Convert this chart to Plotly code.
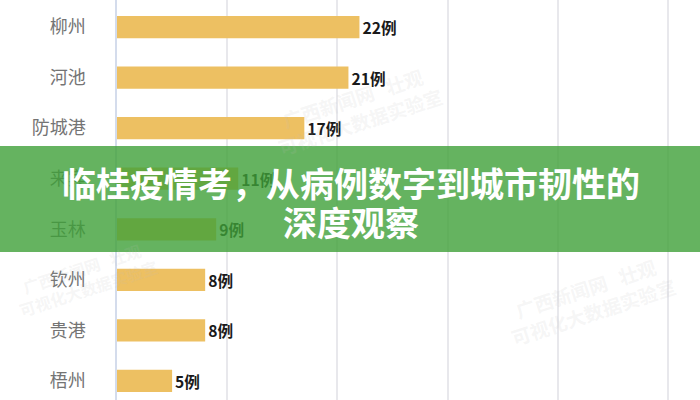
import plotly.graph_objects as go

cities = ["柳州", "河池", "防城港", "来宾", "玉林", "钦州", "贵港", "梧州"]
cases = [22, 21, 17, 11, 9, 8, 8, 5]
labels = ["{}例".format(v) for v in cases]

title_lines = ["临桂疫情考，从病例数字到城市韧性的", "深度观察"]
watermark = "广西新闻网   壮观<br>可视化大数据实验室"

font_cjk = "Noto Sans CJK SC"

fig = go.Figure(go.Bar(
    y=cities,
    x=cases,
    orientation="h",
    text=labels,
    textposition="outside",
    cliponaxis=False,
    marker=dict(color="#EDC062", line=dict(width=0)),
    textfont=dict(family=font_cjk, size=19, color="#1a1a1a", weight="bold"),
))

fig.update_layout(
    width=700, height=400,
    margin={"l": 117, "r": 0, "t": 0, "b": 0, "pad": 0},
    plot_bgcolor="white",
    paper_bgcolor="white",
    bargap=0.56,
    showlegend=False,
    font=dict(family=font_cjk),
)

fig.update_xaxes(range=[0, 52.9], dtick=10, showticklabels=False,
                 showgrid=True, gridcolor="#e8e8ec", gridwidth=1.5,
                 zeroline=False, showline=False)
fig.update_yaxes(range=[7.376, -0.534], showgrid=False, zeroline=False,
                 showline=True, linecolor="#d4dcec", linewidth=1.5,
                 ticks="", ticklabelstandoff=26,
                 tickfont=dict(family=font_cjk, size=18, color="#747474"))

# faint watermarks
for wx, wy, ws in [(0.41, 0.725, 19), (0.81, 0.25, 19), (-0.055, 0.305, 16)]:
    fig.add_annotation(xref="paper", yref="paper", x=wx, y=wy,
                       xanchor="center", yanchor="middle",
                       text=watermark, showarrow=False, textangle=-18,
                       font=dict(family=font_cjk, size=ws, color="rgba(190,190,190,0.14)",
                                 weight="bold"))

# green banner across the middle
fig.add_shape(type="rect", xref="paper", yref="paper",
              x0=-0.3, x1=1.1, y0=1 - 252 / 400, y1=1 - 146 / 400,
              fillcolor="rgba(62,160,56,0.8)", line=dict(width=0), layer="above")

for line, py in zip(title_lines, [182, 221]):
    fig.add_annotation(xref="paper", yref="paper", x=(351 - 117) / 583, y=1 - py / 400,
                       text=line, showarrow=False, yanchor="middle",
                       font=dict(family=font_cjk, size=34, color="white", weight="bold"))

fig.write_html("out.html", config={"displayModeBar": False},
               post_script="document.body.style.margin='0';")
